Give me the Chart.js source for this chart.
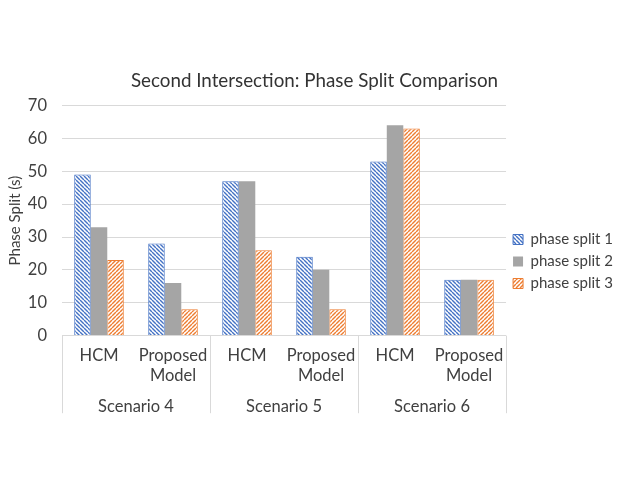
<!DOCTYPE html>
<html>
<head>
<meta charset="utf-8" />
<title>Second Intersection: Phase Split Comparison</title>
<script src="https://cdn.jsdelivr.net/npm/chart.js"></script>
<style>
    html, body { margin: 0; background: white; }
    #wrap { width: 623px; height: 481px; }
</style>
</head>
<body>
<div id="wrap"><canvas id="chart"></canvas></div>
<script>
// data
const categories = ['HCM', ['Proposed', 'Model'], 'HCM', ['Proposed', 'Model'], 'HCM', ['Proposed', 'Model']];
const scenarios = ['Scenario 4', 'Scenario 5', 'Scenario 6'];
const seriesNames = ['phase split 1', 'phase split 2', 'phase split 3'];
const split1 = [49, 28, 47, 24, 53, 17];
const split2 = [33, 16, 47, 20, 64, 17];
const split3 = [23, 8, 26, 8, 63, 17];

const BLUE = '#4472C4', GRAY = '#A5A5A5', ORANGE = '#ED7D31', GRID = '#D9D9D9', TEXT = '#404040';

function hatch(color, dir) {
    const c = document.createElement('canvas');
    c.width = 4; c.height = 4;
    const g = c.getContext('2d');
    g.fillStyle = 'white';
    g.fillRect(0, 0, 4, 4);
    g.strokeStyle = color;
    g.lineWidth = 1.4;
    for (let o = -4; o <= 4; o += 4) {
        g.beginPath();
        if (dir === 'down') { g.moveTo(o, 0); g.lineTo(o + 4, 4); }
        else { g.moveTo(o, 4); g.lineTo(o + 4, 0); }
        g.stroke();
    }
    return g.createPattern(c, 'repeat');
}

// vertical separators between the scenario groups, under the plot
const groupLines = {
    id: 'groupLines',
    afterDraw(chart) {
        const x = chart.scales.x, x2 = chart.scales.x2, ctx = chart.ctx;
        ctx.save();
        ctx.strokeStyle = GRID;
        ctx.lineWidth = 1;
        for (let i = 0; i <= categories.length; i += 2) {
            const px = Math.round(x.getPixelForValue(i - 0.5)) + 0.5;
            ctx.beginPath();
            ctx.moveTo(px, chart.chartArea.bottom);
            ctx.lineTo(px, x2.top + 18);
            ctx.stroke();
        }
        ctx.restore();
    }
};

new Chart(document.getElementById('chart'), {
    type: 'bar',
    data: {
        labels: categories,
        datasets: [
            { label: seriesNames[0], data: split1, backgroundColor: hatch(BLUE, 'down'), borderColor: BLUE, borderWidth: 1 },
            { label: seriesNames[1], data: split2, backgroundColor: GRAY, borderColor: GRAY, borderWidth: 0 },
            { label: seriesNames[2], data: split3, backgroundColor: hatch(ORANGE, 'up'), borderColor: ORANGE, borderWidth: 1 }
        ]
    },
    options: {
        responsive: true,
        maintainAspectRatio: false,
        animation: false,
        layout: { padding: { top: 70, bottom: 62, left: 6, right: 0 } },
        datasets: { bar: { categoryPercentage: 0.67, barPercentage: 1 } },
        plugins: {
            title: {
                display: true,
                text: 'Second Intersection: Phase Split Comparison',
                color: '#333',
                font: { family: 'Lato', size: 18.8, weight: 'normal' },
                padding: { top: 0, bottom: 13 }
            },
            legend: {
                position: 'right',
                title: { display: true, text: ' ', font: { size: 10 }, padding: { top: 0, bottom: 22 } },
                labels: {
                    boxWidth: 10, boxHeight: 10,
                    color: TEXT,
                    font: { family: 'Lato', size: 15 },
                    padding: 7
                }
            },
            tooltip: { enabled: false }
        },
        scales: {
            x: {
                grid: { display: false, drawTicks: false },
                border: { display: false },
                ticks: { color: TEXT, font: { family: 'Lato', size: 16.5 }, maxRotation: 0, padding: 10 }
            },
            x2: {
                type: 'category',
                labels: scenarios,
                position: 'bottom',
                offset: true,
                grid: { display: false, drawTicks: false },
                border: { display: false },
                ticks: { color: TEXT, font: { family: 'Lato', size: 16.5 }, padding: 2 }
            },
            y: {
                min: 0, max: 70,
                ticks: { stepSize: 10, color: TEXT, font: { family: 'Lato', size: 16.5 }, padding: 15 },
                grid: { color: GRID, drawTicks: false },
                border: { display: false },
                title: { display: true, text: 'Phase Split (s)', color: TEXT, font: { family: 'Lato', size: 15 }, padding: 0 },
                afterFit(scale) { scale.width = 56; }
            }
        }
    },
    plugins: [groupLines]
});
</script>
</body>
</html>
